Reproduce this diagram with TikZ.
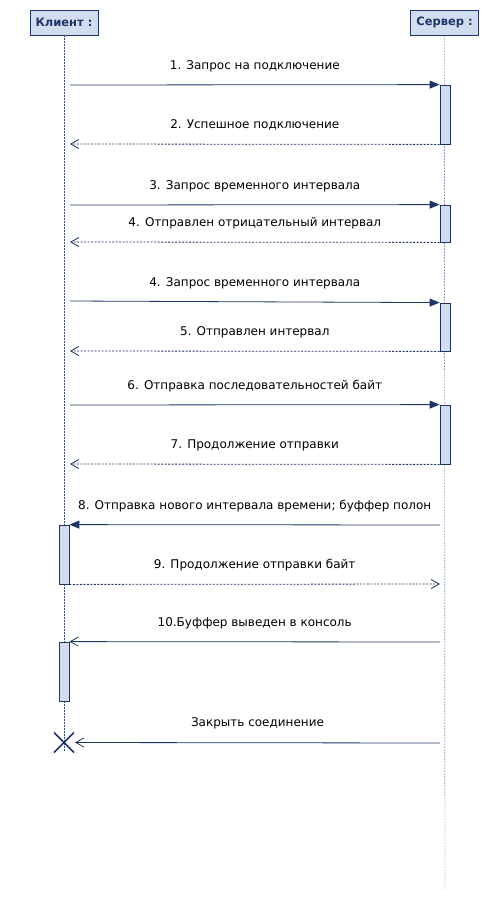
\documentclass[tikz,border=0pt]{standalone}
\usepackage{fontspec}
\setmainfont{DejaVu Sans}
\usetikzlibrary{arrows.meta}

\definecolor{umlline}{HTML}{1F3468}
\definecolor{umlfill}{HTML}{D2DCEF}

\begin{document}
\begin{tikzpicture}[x=1pt, y=-1pt,
  every node/.style={font=\fontsize{12}{14}\selectfont},
  head/.style={draw=umlline, fill=umlfill, thick, text=umlline, font=\fontsize{11.5}{13}\selectfont\bfseries,
    minimum width=68pt, minimum height=25pt, inner sep=0pt},
  act/.style={draw=umlline, fill=umlfill, thick, minimum width=10pt, inner sep=0pt},
  life/.style={umlline!90, dash pattern=on 1.5pt off 1.5pt},
  call/.style={umlline, thick, -{Triangle[length=10pt, width=8pt]}},
  back/.style={umlline, thick, dash pattern=on 2pt off 1.5pt, -{Straight Barb[length=8pt, width=9pt]}},
  async/.style={umlline, thick, -{Straight Barb[length=8pt, width=9pt]}},
  lbl/.style={yshift=19pt, text=black}]
\useasboundingbox (0,0) rectangle (490,903);
% participants
\node[head] (client) at (64,22.5) {Клиент :};
\node[head] (server) at (444.5,22.5) {Сервер :};
% lifelines
\coordinate (cend) at (64,752);
\coordinate (send) at (445,890);
\draw[life] (client.south) -- (cend);
\draw[life] (server.south) -- (send);
% activations
\node[act, minimum height=59pt] (s1) at (445,114.5) {};
\node[act, minimum height=37pt] (s2) at (445,223.5) {};
\node[act, minimum height=48pt] (s3) at (445,327) {};
\node[act, minimum height=59pt] (s4) at (445,434.5) {};
\node[act, minimum height=59pt] (c1) at (64,554.5) {};
\node[act, minimum height=59pt] (c2) at (64,671.5) {};
% free ends on the client side
\coordinate (a1) at (70,85);
\coordinate (a2) at (70,144);
\coordinate (a3) at (70,205);
\coordinate (a4) at (70,242);
\coordinate (a5) at (70,301);
\coordinate (a6) at (70,351);
\coordinate (a7) at (70,405);
\coordinate (a8) at (70,464);
% free ends on the server side
\coordinate (b8) at (440,525);
\coordinate (b9) at (440,584);
\coordinate (b10) at (440,642);
\coordinate (b11) at (440,743);
\coordinate (x) at (64,742.5);
% messages
\draw[call] (a1) -- (s1.north west) node[midway,lbl] {1. Запрос на подключение};
\draw[back] (s1.south west) -- (a2) node[midway,lbl] {2. Успешное подключение};
\draw[call] (a3) -- (s2.north west) node[midway,lbl] {3. Запрос временного интервала};
\draw[back] (s2.south west) -- (a4) node[midway,lbl] {4. Отправлен отрицательный интервал};
\draw[call] (a5) -- (s3.north west) node[midway,lbl] {4. Запрос временного интервала};
\draw[back] (s3.south west) -- (a6) node[midway,lbl] {5. Отправлен интервал};
\draw[call] (a7) -- (s4.north west) node[midway,lbl] {6. Отправка последовательностей байт};
\draw[back] (s4.south west) -- (a8) node[midway,lbl] {7. Продолжение отправки};
\draw[call] (b8) -- (c1.north east) node[midway,lbl] {8. Отправка нового интервала времени; буффер полон};
\draw[back] (c1.south east) -- (b9) node[midway,lbl] {9. Продолжение отправки байт};
\draw[async] (b10) -- (c2.north east) node[midway,lbl] {10.Буффер выведен в консоль};
\draw[async] (b11) -- ([xshift=11pt]x) node[midway,lbl] {Закрыть соединение};
% destruction
\draw[umlline, line width=1.5pt] ([shift={(-10,-10)}]x) -- ([shift={(10,10)}]x)
  ([shift={(-10,10)}]x) -- ([shift={(10,-10)}]x);
\end{tikzpicture}
\end{document}
